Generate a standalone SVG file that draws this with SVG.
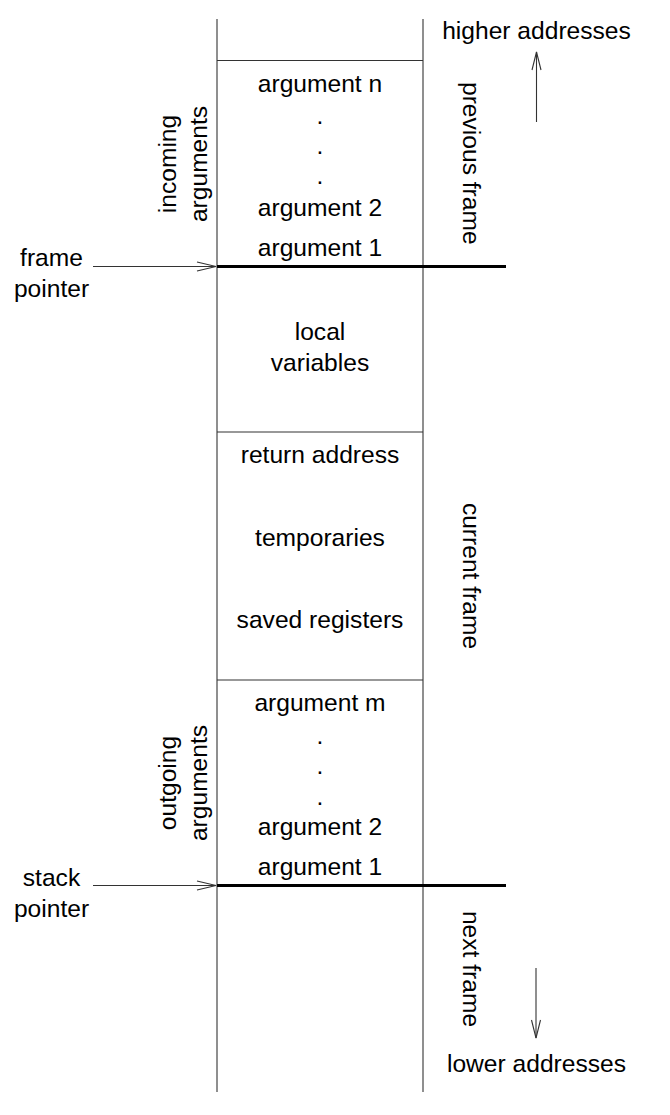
<svg xmlns="http://www.w3.org/2000/svg" width="670" height="1115" viewBox="0 0 670 1115">
<style>
text{font-family:"Liberation Sans",Arial,Helvetica,sans-serif;font-size:24.6px;fill:#000;text-anchor:middle}
.thin{stroke:#333;stroke-width:1.1;fill:none}
.thick{stroke:#000;stroke-width:3.2;fill:none}
.arr{stroke:#333;stroke-width:1.1;fill:none}
</style>
<rect width="670" height="1115" fill="#fff"/>
<g id="stack-frame">
<line class="thin" x1="217" y1="19" x2="217" y2="1092"/>
<line class="thin" x1="423" y1="19" x2="423" y2="1092"/>
<line class="thin" x1="217" y1="60.5" x2="423" y2="60.5"/>
<line class="thin" x1="217" y1="432" x2="423" y2="432"/>
<line class="thin" x1="217" y1="680" x2="423" y2="680"/>
<line class="thick" x1="217" y1="266.5" x2="506" y2="266.5"/>
<line class="thick" x1="217" y1="885.5" x2="506" y2="885.5"/>
</g>
<g id="incoming-args">
<text x="320" y="92">argument n</text>
<text x="320" y="124">.</text>
<text x="320" y="154">.</text>
<text x="320" y="184">.</text>
<text x="320" y="216">argument 2</text>
<text x="320" y="256">argument 1</text>
<text transform="translate(176,164) rotate(-90)">incoming</text>
<text transform="translate(207,164) rotate(-90)">arguments</text>
</g>
<g id="locals">
<text x="320" y="340">local</text>
<text x="320" y="370.7">variables</text>
</g>
<g id="saved">
<text x="320" y="462.7">return address</text>
<text x="320" y="545.7">temporaries</text>
<text x="320" y="628.3">saved registers</text>
</g>
<g id="outgoing-args">
<text x="320" y="710.7">argument m</text>
<text x="320" y="744">.</text>
<text x="320" y="774">.</text>
<text x="320" y="805">.</text>
<text x="320" y="835">argument 2</text>
<text x="320" y="875">argument 1</text>
<text transform="translate(176,783) rotate(-90)">outgoing</text>
<text transform="translate(207,783) rotate(-90)">arguments</text>
</g>
<g id="frame-labels">
<text transform="translate(463,163.3) rotate(90)">previous frame</text>
<text transform="translate(463,576) rotate(90)">current frame</text>
<text transform="translate(463,969) rotate(90)">next frame</text>
</g>
<g id="addresses">
<text x="536.5" y="39.3">higher addresses</text>
<text x="536.5" y="1071.7">lower addresses</text>
</g>
<g id="pointers">
<text x="51.5" y="266">frame</text>
<text x="51.5" y="297">pointer</text>
<text x="51.5" y="886">stack</text>
<text x="51.5" y="916.7">pointer</text>
</g>
<g id="connectors">
<line class="arr" x1="93" y1="266.5" x2="216" y2="266.5"/>
<polyline class="arr" points="197,262 216,266.5 197,271"/>
<line class="arr" x1="93" y1="885.5" x2="216" y2="885.5"/>
<polyline class="arr" points="197,881 216,885.5 197,890"/>
<line class="arr" x1="536.5" y1="52" x2="536.5" y2="122"/>
<polyline class="arr" points="532,70 536.5,52 541,70"/>
<line class="arr" x1="536" y1="968" x2="536" y2="1038"/>
<polyline class="arr" points="531.5,1020 536,1038 540.5,1020"/>
</g>
</svg>
